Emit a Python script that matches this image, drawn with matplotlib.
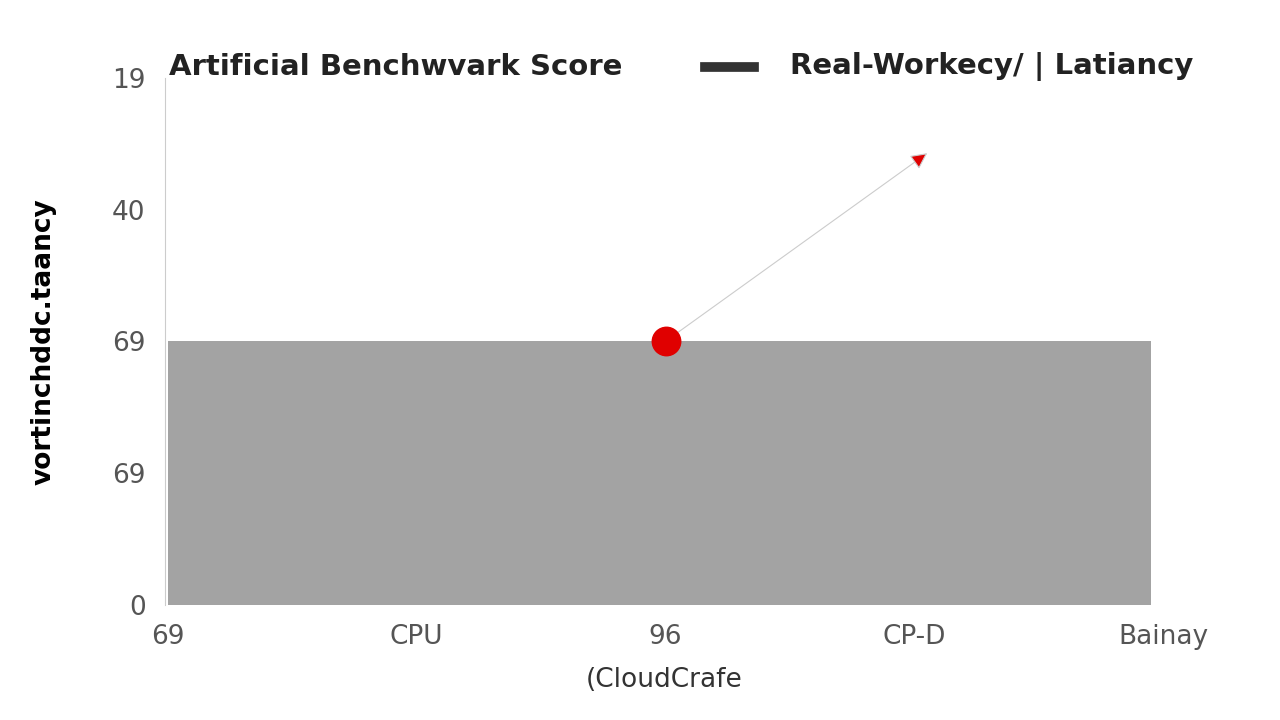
import matplotlib.pyplot as plt

# chart data
x_labels = ["69", "CPU", "96", "CP-D", "Bainay"]
y_labels = ["0", "69", "69", "40", "19"]
band_x = [0.0, 3.95]
band_top = [2.0, 2.0]
point_x, point_y = 2.0, 2.0
arrow_end = (3.06, 3.44)

fig = plt.figure(figsize=(12.8, 7.2), dpi=100)
ax = fig.add_axes([0.129, 0.16, 0.78, 0.732])

ax.fill_between(band_x, 0, band_top, color="#a3a3a3", linewidth=0)
ax.annotate("", xy=arrow_end, xytext=(point_x, point_y),
            arrowprops=dict(arrowstyle="-|>", color="#dddddd", lw=0.8,
                            mutation_scale=25, fc="#e00000", ec="#cccccc"))
ax.scatter([point_x], [point_y], s=420, color="#e00000", zorder=5)

ax.set_xlim(-0.01, 4.0)
ax.set_ylim(0, 4)
ax.set_xticks(range(len(x_labels)))
ax.set_xticklabels(x_labels)
ax.set_yticks(range(len(y_labels)))
ax.set_yticklabels(y_labels)
ax.tick_params(length=0, labelsize=19, colors="#555555", pad=14)
for s in ["top", "right", "bottom"]:
    ax.spines[s].set_visible(False)
ax.spines["left"].set_color("#cccccc")

ax.set_ylabel("vortinchddc.taancy", fontsize=19, fontweight="bold", labelpad=40)
ax.set_xlabel("(CloudCrafe", fontsize=19, color="#333333", labelpad=12)

fig.text(0.132, 0.907, "Artificial Benchwvark Score", fontsize=21, fontweight="bold",
         color="#222222", va="center")
fig.add_artist(plt.Line2D([0.551, 0.589], [0.907, 0.907], color="#333333", lw=7))
fig.text(0.617, 0.907, "Real-Workecy/ | Latiancy", fontsize=21, fontweight="bold",
         color="#222222", va="center")

fig.savefig("out.png", dpi=100)
